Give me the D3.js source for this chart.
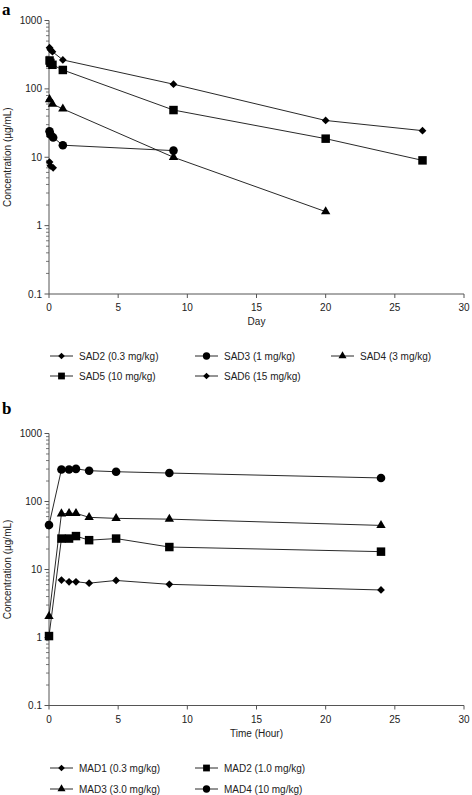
<!DOCTYPE html>
<html><head><meta charset="utf-8">
<script src="https://cdn.jsdelivr.net/npm/d3@7"></script>
<style>
html,body{margin:0;padding:0;background:#fff;}
svg{display:block;}
</style></head>
<body><svg id="c" width="472" height="795"></svg>
<script>
// ---------- Data ----------
const xTicksA = [0,5,10,15,20,25,30];
const yTickLabels = ["0.1","1","10","100","1000"];

const sad2T = [0.04,0.1,0.3],              sad2V = [8.5,7.5,7.0];
const sad3T = [0.04,0.1,0.3,1,9],          sad3V = [24,21.5,19.5,15,12.5];
const sad4T = [0.04,0.25,1,9,20],          sad4V = [70,60,51,10,1.6];
const sad5T = [0.04,0.1,0.25,1,9,20,27],   sad5V = [260,240,225,189,49,18.7,9];
const sad6T = [0.04,0.1,0.25,1,9,20,27],   sad6V = [400,375,350,265,117,34.5,24.5];

const mad1T = [0.9,1.45,1.95,2.9,4.85,8.7,24],   mad1V = [7.0,6.6,6.6,6.3,6.9,6.05,5.0];
const mad2T = [0,0.9,1.45,1.95,2.9,4.85,8.7,24], mad2V = [1.05,28.5,28.5,31,27,28.5,21.4,18.3];
const mad3T = [0,0.9,1.45,1.95,2.9,4.85,8.7,24], mad3V = [2.05,66,67,67,58.5,56.5,55,44.5];
const mad4T = [0,0.9,1.45,1.95,2.9,4.85,8.7,24], mad4V = [45,295,295,302,284,274,262,222];

const sadNames = ["SAD2 (0.3 mg/kg)","SAD3 (1 mg/kg)","SAD4 (3 mg/kg)","SAD5 (10 mg/kg)","SAD6 (15 mg/kg)"];
const madNames = ["MAD1 (0.3 mg/kg)","MAD2 (1.0 mg/kg)","MAD3 (3.0 mg/kg)","MAD4 (10 mg/kg)"];

// ---------- Symbols ----------
const diamond = {draw(ctx,size){const r=Math.sqrt(size/2);ctx.moveTo(0,-r);ctx.lineTo(r,0);ctx.lineTo(0,r);ctx.lineTo(-r,0);ctx.closePath();}};
const sym = {
  diamond: d3.symbol().type(diamond).size(30),
  circle: d3.symbol().type(d3.symbolCircle).size(58),
  triangle: d3.symbol().type(d3.symbolTriangle).size(38),
  square: d3.symbol().type(d3.symbolSquare).size(72)
};
const symL = {
  diamond: d3.symbol().type(diamond).size(22),
  circle: d3.symbol().type(d3.symbolCircle).size(42),
  triangle: d3.symbol().type(d3.symbolTriangle).size(28),
  square: d3.symbol().type(d3.symbolSquare).size(46)
};

const FONT = "'Liberation Sans', Arial, Helvetica, sans-serif";
const svg = d3.select("#c").attr("font-family", FONT);
const ink = "#111";
const axisCol = "#555";

function panel(opts){
  const x = d3.scaleLinear().domain([0,30]).range([49,464]);
  const y = d3.scaleLog().domain([0.1,1000]).range([opts.y0, opts.y1]);
  const g = svg.append("g");
  // y axis
  g.append("line").attr("x1",49).attr("x2",49).attr("y1",y(0.1)).attr("y2",y(1000))
    .attr("stroke",axisCol).attr("stroke-width",1);
  const minor=[];
  for(let e=-1;e<3;e++) for(let m=2;m<=9;m++) minor.push(m*Math.pow(10,e));
  g.selectAll(".mn").data(minor).enter().append("line")
    .attr("x1",46).attr("x2",49).attr("y1",d=>y(d)).attr("y2",d=>y(d))
    .attr("stroke",axisCol).attr("stroke-width",0.8);
  const major=[0.1,1,10,100,1000];
  g.selectAll(".mj").data(major).enter().append("line")
    .attr("x1",44.5).attr("x2",49).attr("y1",d=>y(d)).attr("y2",d=>y(d))
    .attr("stroke",axisCol).attr("stroke-width",1);
  g.selectAll(".yl").data(major).enter().append("text")
    .attr("x",42).attr("y",d=>y(d)+3.5).attr("text-anchor","end").attr("font-family",FONT)
    .attr("font-size",10).attr("fill","#222").text((d,i)=>yTickLabels[i]);
  // x axis
  const yb=y(0.1);
  g.append("line").attr("x1",49).attr("x2",464).attr("y1",yb).attr("y2",yb)
    .attr("stroke",axisCol).attr("stroke-width",1);
  g.selectAll(".xt").data(xTicksA).enter().append("line")
    .attr("x1",d=>x(d)).attr("x2",d=>x(d)).attr("y1",yb).attr("y2",yb+4)
    .attr("stroke",axisCol).attr("stroke-width",1);
  g.selectAll(".xl").data(xTicksA).enter().append("text")
    .attr("x",d=>x(d)).attr("y",yb+17).attr("text-anchor","middle").attr("font-family",FONT)
    .attr("font-size",10).attr("fill","#222").text(d=>d);
  g.append("text").attr("x",256.5).attr("y",yb+31).attr("text-anchor","middle").attr("font-family",FONT)
    .attr("font-size",10).attr("fill","#222").text(opts.xTitle);
  g.append("text").attr("transform",`translate(11,${(y(0.1)+y(1000))/2}) rotate(-90)`)
    .attr("text-anchor","middle").attr("font-size",10).attr("fill","#222").attr("font-family",FONT)
    .text("Concentration (µg/mL)");
  // panel letter
  g.append("text").attr("x",2).attr("y",opts.letterY).attr("font-family","'Liberation Serif','Times New Roman',serif")
    .attr("font-weight","bold").attr("font-size",17).attr("fill","#000").text(opts.letter);
  // series
  const line = d3.line().x(d=>x(d[0])).y(d=>y(d[1]));
  opts.series.forEach(s=>{
    const pts = s.t.map((t,i)=>[t,s.v[i]]);
    g.append("path").attr("d",line(pts)).attr("fill","none").attr("stroke",ink).attr("stroke-width",0.9);
  });
  opts.series.forEach(s=>{
    const pts = s.t.map((t,i)=>[t,s.v[i]]);
    g.selectAll(null).data(pts).enter().append("path")
      .attr("d",sym[s.shape]()).attr("transform",d=>`translate(${x(d[0])},${y(d[1])})`)
      .attr("fill","#000");
  });
  // legend
  opts.series.forEach((s,i)=>{
    const col=i%opts.cols, row=Math.floor(i/opts.cols);
    const lx=opts.legX[col], ly=opts.legY[row];
    const lg=g.append("g").attr("transform",`translate(${lx},${ly})`);
    lg.append("line").attr("x1",0).attr("x2",23).attr("y1",0).attr("y2",0).attr("stroke",ink).attr("stroke-width",0.9);
    lg.append("path").attr("d",symL[s.shape]()).attr("transform","translate(11.5,0)").attr("fill","#000");
    lg.append("text").attr("x",29).attr("y",3.6).attr("font-size",10).attr("font-family",FONT).attr("fill","#222").text(s.name);
  });
}

panel({
  y0:294, y1:20.5, letter:"a", letterY:15, xTitle:"Day",
  cols:3, legX:[50,195,331], legY:[356,376],
  series:[
    {t:sad2T,v:sad2V,shape:"diamond",name:sadNames[0]},
    {t:sad3T,v:sad3V,shape:"circle",name:sadNames[1]},
    {t:sad4T,v:sad4V,shape:"triangle",name:sadNames[2]},
    {t:sad5T,v:sad5V,shape:"square",name:sadNames[3]},
    {t:sad6T,v:sad6V,shape:"diamond",name:sadNames[4]}
  ]
});
panel({
  y0:705.5, y1:433.5, letter:"b", letterY:414, xTitle:"Time (Hour)",
  cols:2, legX:[50,195], legY:[768,789],
  series:[
    {t:mad1T,v:mad1V,shape:"diamond",name:madNames[0]},
    {t:mad2T,v:mad2V,shape:"square",name:madNames[1]},
    {t:mad3T,v:mad3V,shape:"triangle",name:madNames[2]},
    {t:mad4T,v:mad4V,shape:"circle",name:madNames[3]}
  ]
});
</script></body></html>
